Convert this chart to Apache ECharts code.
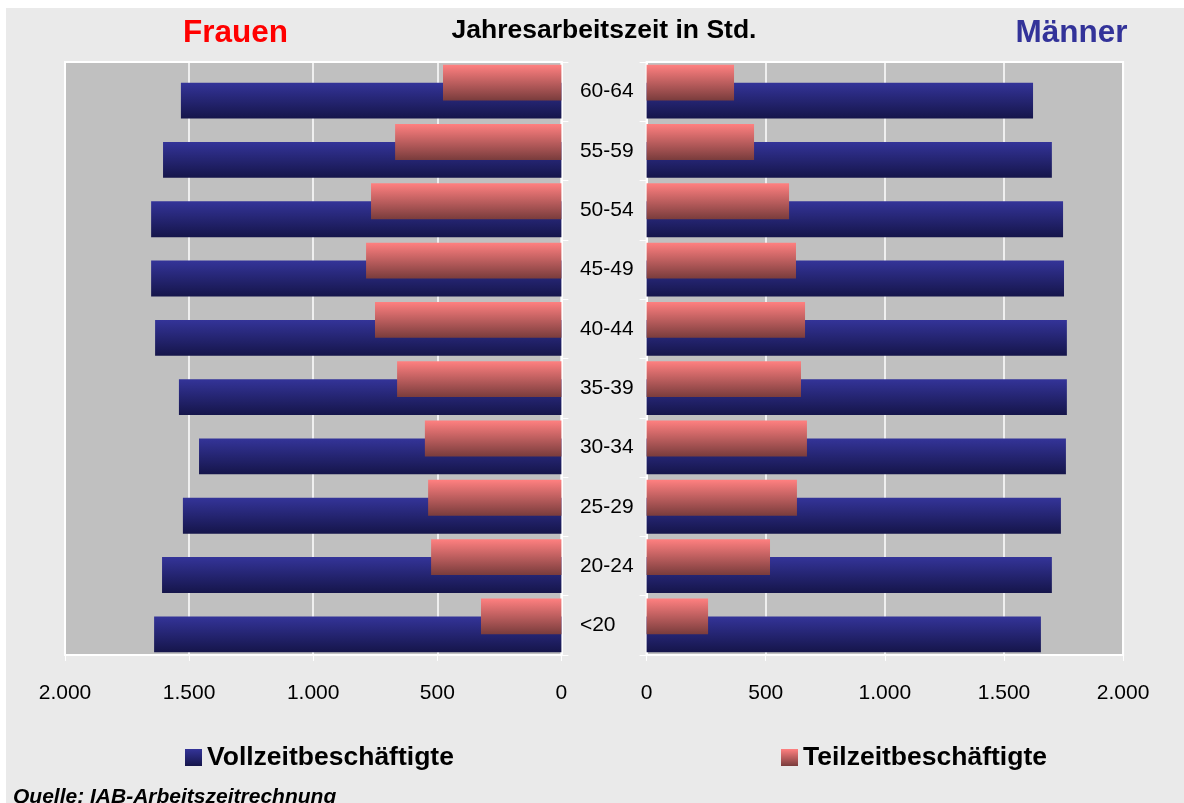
<!DOCTYPE html>
<html>
<head>
<meta charset="utf-8">
<script src="https://cdn.jsdelivr.net/npm/echarts@6/dist/echarts.min.js"></script>
<style>
  html, body { margin: 0; padding: 0; background: #ffffff; }
  #bg { position: absolute; left: 6px; top: 8px; width: 1178px; height: 795px; background: #eaeaea; }
  #chart { position: absolute; left: 0; top: 0; width: 1184px; height: 803px; }
</style>
</head>
<body>
<div id="bg"></div>
<div id="chart"></div>
<script>
// Age groups, bottom to top
const categories = ['<20', '20-24', '25-29', '30-34', '35-39', '40-44', '45-49', '50-54', '55-59', '60-64'];
// Frauen (women)
const frauenVollzeit = [1641, 1609, 1525, 1460, 1541, 1637, 1653, 1653, 1605, 1533];
const frauenTeilzeit = [324, 525, 537, 550, 662, 751, 787, 767, 670, 477];
// Männer (men)
const maennerVollzeit = [1655, 1701, 1739, 1760, 1764, 1764, 1752, 1748, 1701, 1622];
const maennerTeilzeit = [258, 518, 631, 673, 648, 665, 627, 598, 451, 367];

const tickValues = [0, 500, 1000, 1500, 2000];
const nameVoll = 'Vollzeitbeschäftigte';
const nameTeil = 'Teilzeitbeschäftigte';

function fmt(v) {
  if (v >= 1000) {
    const t = Math.floor(v / 1000);
    const r = String(v % 1000).padStart(3, '0');
    return t + '.' + r;
  }
  return String(v);
}

const blueGrad = new echarts.graphic.LinearGradient(0, 0, 0, 1, [
  { offset: 0, color: '#343499' },
  { offset: 1, color: '#15154a' }
]);
const pinkGrad = new echarts.graphic.LinearGradient(0, 0, 0, 1, [
  { offset: 0, color: '#ff8080' },
  { offset: 1, color: '#793c3c' }
]);

const FONT = 'Liberation Sans, Arial, sans-serif';

function xAxisCfg(gridIndex, inverse) {
  return {
    type: 'value', gridIndex: gridIndex, min: 0, max: 2000, interval: 500, inverse: inverse,
    axisLine: { show: true, lineStyle: { color: '#ffffff', width: 2 } },
    axisTick: { show: true, length: 6, lineStyle: { color: '#ffffff', width: 1 } },
    splitLine: { show: true, lineStyle: { color: '#ffffff', width: 1.5 } },
    axisLabel: { formatter: fmt, color: '#000', fontSize: 21, fontFamily: FONT, margin: 28 }
  };
}

function yAxisCfg(gridIndex, position, showLabel) {
  return {
    type: 'category', gridIndex: gridIndex, data: categories, position: position,
    axisLine: { show: true, lineStyle: { color: '#ffffff', width: 2 } },
    axisTick: { show: true, length: 7, inside: false, lineStyle: { color: '#ffffff', width: 1 } },
    splitLine: { show: false },
    axisLabel: { show: showLabel, color: '#000', fontSize: 21, fontFamily: FONT, margin: 18.5, align: 'left', verticalAlign: 'middle', padding: [5, 0, 0, 0] }
  };
}

const barCommon = { type: 'bar', barWidth: '60.5%', barGap: '-50%' };

const legendText = { color: '#000', fontSize: 26.5, fontWeight: 'bold', fontFamily: FONT };

const option = {
  backgroundColor: 'transparent',
  animation: false,
  grid: [
    { left: 65, top: 62, width: 496.4, height: 593, show: true, backgroundColor: '#c0c0c0', borderColor: '#ffffff', borderWidth: 2 },
    { left: 646.6, top: 62, width: 476.5, height: 593, show: true, backgroundColor: '#c0c0c0', borderColor: '#ffffff', borderWidth: 2 }
  ],
  xAxis: [xAxisCfg(0, true), xAxisCfg(1, false)],
  yAxis: [yAxisCfg(0, 'right', true), yAxisCfg(1, 'left', false)],
  legend: [
    { data: [nameVoll], left: 185, top: 744, padding: 0, icon: 'rect', itemWidth: 17, itemHeight: 17, textStyle: legendText },
    { data: [nameTeil], left: 781, top: 744, padding: 0, icon: 'rect', itemWidth: 17, itemHeight: 17, textStyle: legendText }
  ],
  graphic: [
    { type: 'text', x: 235.5, y: 33, style: { text: 'Frauen', fill: '#ff0000', font: 'bold 31.5px ' + FONT, textAlign: 'center', textVerticalAlign: 'middle' } },
    { type: 'text', x: 604, y: 31, style: { text: 'Jahresarbeitszeit in Std.', fill: '#000', font: 'bold 26.5px ' + FONT, textAlign: 'center', textVerticalAlign: 'middle' } },
    { type: 'text', x: 1071.5, y: 33, style: { text: 'Männer', fill: '#333399', font: 'bold 31.5px ' + FONT, textAlign: 'center', textVerticalAlign: 'middle' } },
    { type: 'text', x: 13, y: 797, style: { text: 'Quelle: IAB-Arbeitszeitrechnung', fill: '#000', font: 'italic bold 21px ' + FONT, textAlign: 'left', textVerticalAlign: 'middle' } }
  ],
  series: [
    Object.assign({}, barCommon, { name: nameTeil, xAxisIndex: 0, yAxisIndex: 0, data: frauenTeilzeit, itemStyle: { color: pinkGrad }, z: 3 }),
    Object.assign({}, barCommon, { name: nameVoll, xAxisIndex: 0, yAxisIndex: 0, data: frauenVollzeit, itemStyle: { color: blueGrad }, z: 2 }),
    Object.assign({}, barCommon, { name: nameTeil, xAxisIndex: 1, yAxisIndex: 1, data: maennerTeilzeit, itemStyle: { color: pinkGrad }, z: 3 }),
    Object.assign({}, barCommon, { name: nameVoll, xAxisIndex: 1, yAxisIndex: 1, data: maennerVollzeit, itemStyle: { color: blueGrad }, z: 2 })
  ]
};

const chart = echarts.init(document.getElementById('chart'), null, { renderer: 'canvas' });
chart.setOption(option);
</script>
</body>
</html>
